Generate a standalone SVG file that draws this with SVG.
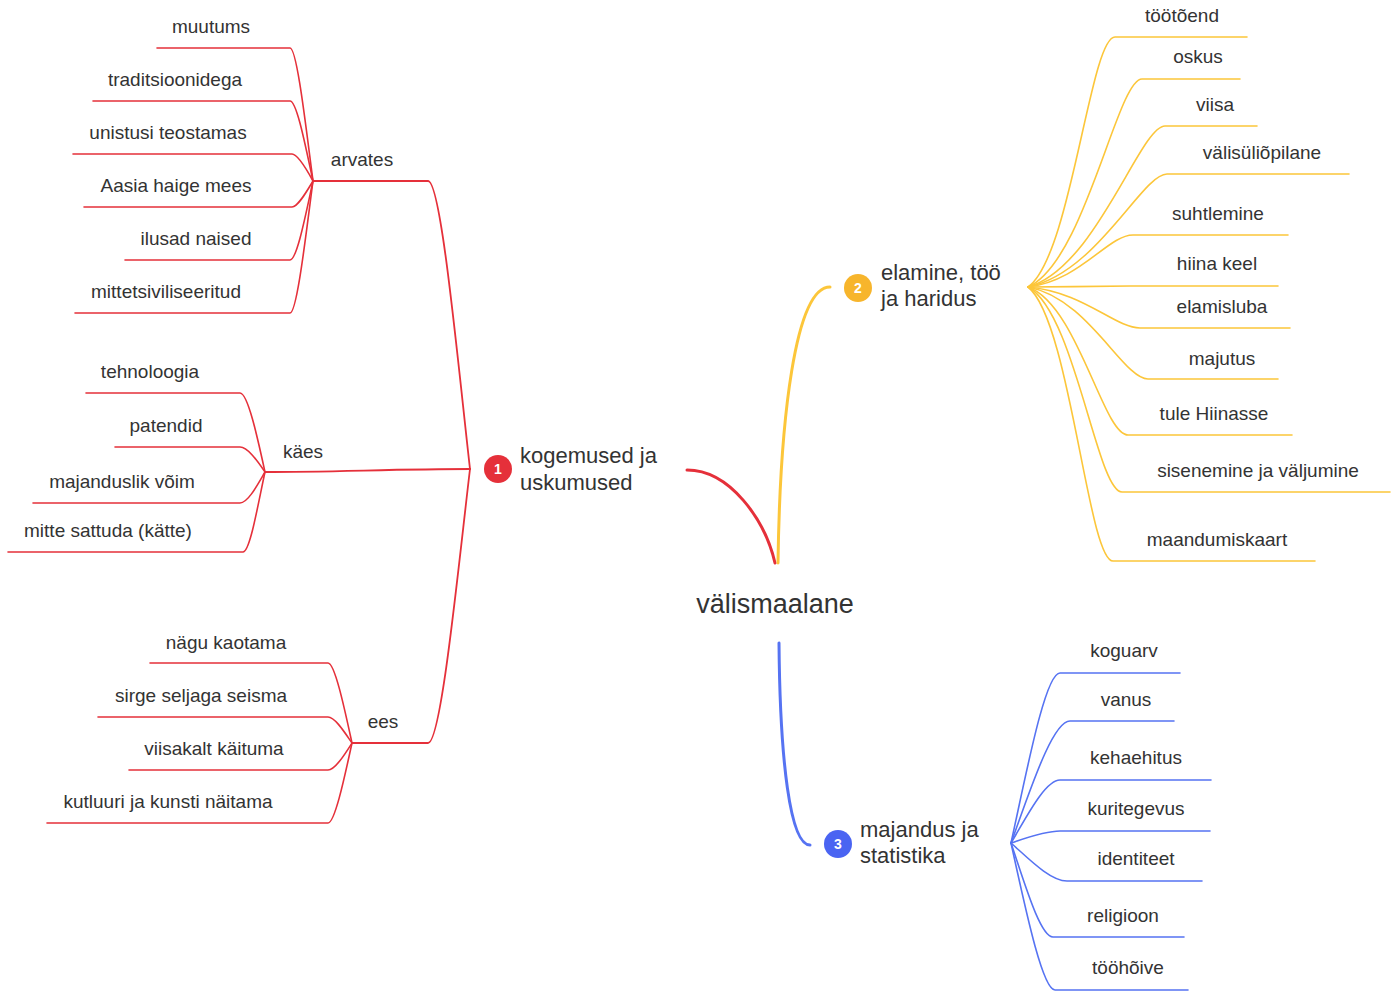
<svg xmlns="http://www.w3.org/2000/svg" width="1393" height="994" viewBox="0 0 1393 994">
<style>
text{font-family:"Liberation Sans",Arial,sans-serif;fill:#333;}
.leaf{font-size:19px;text-anchor:middle;}
.mid{font-size:22px;}
.center{font-size:27px;text-anchor:middle;}
.num{font-size:14px;font-weight:bold;fill:#fff;text-anchor:middle;}
path{fill:none;stroke-linecap:round;}
.r{stroke:#e5303a;}
.y{stroke:#fcc63a;}
.b{stroke:#5673f2;}
.main{stroke-width:3;}
.sub{stroke-width:1.8;}
.lf{stroke-width:1.6;}
</style>
<rect width="1393" height="994" fill="#fff"/>
<g id="connectors">
<path class="r main" d="M687,470 C730,470 765,520 775,563"/>
<path class="y main" d="M778,563 C780,420 795,287 830,287"/>
<path class="b main" d="M779,643 C780,760 790,845 810,845"/>
<path class="r sub" d="M470,469 C457,354 441,181 428,181 H313"/>
<path class="r sub" d="M470,469 C400,469 330,472 265,472"/>
<path class="r sub" d="M470,469 C457,579 441,743 428,743 H352"/>
<path class="r lf" d="M313,181 C306,128 297,48 290,48 H157"/>
<path class="r lf" d="M313,181 C306,149 297,101 290,101 H93"/>
<path class="r lf" d="M313,181 C307,170 298,154 292,154 H73"/>
<path class="r lf" d="M313,181 C307,191 298,207 292,207 H84"/>
<path class="r lf" d="M313,181 C306,213 297,260 290,260 H125"/>
<path class="r lf" d="M313,181 C306,234 297,313 290,313 H75"/>
<path class="r lf" d="M265,472 C258,440 248,393 240,393 H86"/>
<path class="r lf" d="M265,472 C258,462 248,447 240,447 H115"/>
<path class="r lf" d="M265,472 C258,484 248,503 240,503 H33"/>
<path class="r lf" d="M265,472 C258,504 250,552 243,552 H8"/>
<path class="r lf" d="M352,743 C345,711 335,663 328,663 H150"/>
<path class="r lf" d="M352,743 C345,733 335,717 328,717 H98"/>
<path class="r lf" d="M352,743 C345,754 335,770 328,770 H129"/>
<path class="r lf" d="M352,743 C345,775 335,823 328,823 H47"/>
<path class="y lf" d="M1028,287 C1071,257 1090,37 1115,37 H1247"/>
<path class="y lf" d="M1028,287 C1085,262 1117,79 1142,79 H1240"/>
<path class="y lf" d="M1028,287 C1096,268 1140,126 1165,126 H1257"/>
<path class="y lf" d="M1028,287 C1097,273 1142,174 1167,174 H1349"/>
<path class="y lf" d="M1028,287 C1080,281 1108,235 1133,235 H1288"/>
<path class="y lf" d="M1028,287 C1060,287 1100,286 1130,286 H1278"/>
<path class="y lf" d="M1028,287 C1084,292 1115,328 1140,328 H1290"/>
<path class="y lf" d="M1028,287 C1088,298 1123,379 1148,379 H1278"/>
<path class="y lf" d="M1028,287 C1078,305 1103,435 1128,435 H1292"/>
<path class="y lf" d="M1028,287 C1075,312 1097,492 1122,492 H1390"/>
<path class="y lf" d="M1028,287 C1070,320 1088,561 1113,561 H1315"/>
<path class="b lf" d="M1011,843 C1026,775 1045,673 1060,673 H1180"/>
<path class="b lf" d="M1011,843 C1029,794 1052,721 1070,721 H1174"/>
<path class="b lf" d="M1011,843 C1026,818 1045,780 1060,780 H1211"/>
<path class="b lf" d="M1011,843 C1026,838 1045,831 1060,831 H1210"/>
<path class="b lf" d="M1011,843 C1028,858 1050,881 1067,881 H1202"/>
<path class="b lf" d="M1011,843 C1024,881 1040,937 1053,937 H1184"/>
<path class="b lf" d="M1011,843 C1024,902 1042,990 1055,990 H1188"/>
</g>
<g id="center"><text class="center" x="775" y="613">välismaalane</text></g>
<g id="n1">
<circle cx="498" cy="469" r="14" fill="#e5303a"/><text class="num" x="498" y="474">1</text>
<text class="mid" x="520" y="463">kogemused ja</text><text class="mid" x="520" y="490">uskumused</text>
</g>
<g id="n2">
<circle cx="858" cy="288" r="14" fill="#f7b52c"/><text class="num" x="858" y="293">2</text>
<text class="mid" x="881" y="280">elamine, töö</text><text class="mid" x="881" y="306">ja haridus</text>
</g>
<g id="n3">
<circle cx="838" cy="844" r="14" fill="#4a64f2"/><text class="num" x="838" y="849">3</text>
<text class="mid" x="860" y="837">majandus ja</text><text class="mid" x="860" y="863">statistika</text>
</g>
<g id="arvates"><text class="leaf" x="362" y="166">arvates</text></g>
<g id="muutums"><text class="leaf" x="211" y="33">muutums</text></g>
<g id="traditsioonidega"><text class="leaf" x="175" y="86">traditsioonidega</text></g>
<g id="unistusi"><text class="leaf" x="168" y="139">unistusi teostamas</text></g>
<g id="aasia"><text class="leaf" x="176" y="192">Aasia haige mees</text></g>
<g id="ilusad"><text class="leaf" x="196" y="245">ilusad naised</text></g>
<g id="mittetsiv"><text class="leaf" x="166" y="298">mittetsiviliseeritud</text></g>
<g id="kaes"><text class="leaf" x="303" y="458">käes</text></g>
<g id="tehnoloogia"><text class="leaf" x="150" y="378">tehnoloogia</text></g>
<g id="patendid"><text class="leaf" x="166" y="432">patendid</text></g>
<g id="majanduslik"><text class="leaf" x="122" y="488">majanduslik võim</text></g>
<g id="mitte"><text class="leaf" x="108" y="537">mitte sattuda (kätte)</text></g>
<g id="ees"><text class="leaf" x="383" y="728">ees</text></g>
<g id="nagu"><text class="leaf" x="226" y="649">nägu kaotama</text></g>
<g id="sirge"><text class="leaf" x="201" y="702">sirge seljaga seisma</text></g>
<g id="viisakalt"><text class="leaf" x="214" y="755">viisakalt käituma</text></g>
<g id="kutluuri"><text class="leaf" x="168" y="808">kutluuri ja kunsti näitama</text></g>
<g id="tootoend"><text class="leaf" x="1182" y="22">töötõend</text></g>
<g id="oskus"><text class="leaf" x="1198" y="63">oskus</text></g>
<g id="viisa"><text class="leaf" x="1215" y="111">viisa</text></g>
<g id="valisulio"><text class="leaf" x="1262" y="159">välisüliõpilane</text></g>
<g id="suhtlemine"><text class="leaf" x="1218" y="220">suhtlemine</text></g>
<g id="hiina"><text class="leaf" x="1217" y="270">hiina keel</text></g>
<g id="elamisluba"><text class="leaf" x="1222" y="313">elamisluba</text></g>
<g id="majutus"><text class="leaf" x="1222" y="365">majutus</text></g>
<g id="tule"><text class="leaf" x="1214" y="420">tule Hiinasse</text></g>
<g id="sisenemine"><text class="leaf" x="1258" y="477">sisenemine ja väljumine</text></g>
<g id="maandumiskaart"><text class="leaf" x="1217" y="546">maandumiskaart</text></g>
<g id="koguarv"><text class="leaf" x="1124" y="657">koguarv</text></g>
<g id="vanus"><text class="leaf" x="1126" y="706">vanus</text></g>
<g id="kehaehitus"><text class="leaf" x="1136" y="764">kehaehitus</text></g>
<g id="kuritegevus"><text class="leaf" x="1136" y="815">kuritegevus</text></g>
<g id="identiteet"><text class="leaf" x="1136" y="865">identiteet</text></g>
<g id="religioon"><text class="leaf" x="1123" y="922">religioon</text></g>
<g id="toohoive"><text class="leaf" x="1128" y="974">tööhõive</text></g>
</svg>
